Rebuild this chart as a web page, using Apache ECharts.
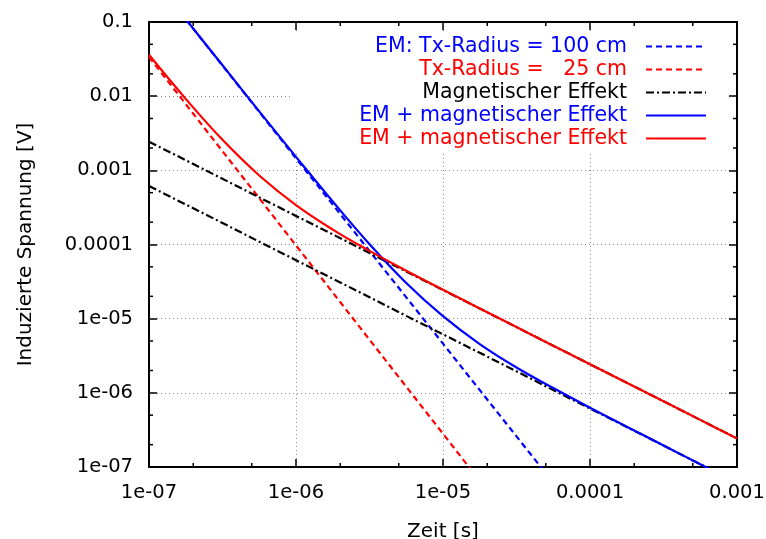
<!DOCTYPE html>
<html>
<head>
<meta charset="utf-8">
<script src="https://cdn.jsdelivr.net/npm/echarts@6/dist/echarts.min.js"></script>
<style>
html,body{margin:0;padding:0;background:#fff;}
#chart{width:766px;height:539px;}
</style>
</head>
<body>
<div id="chart"></div>
<script>
// ---- data ----
const timeTickLabels = ['1e-07', '1e-06', '1e-05', '0.0001', '0.001'];
const voltTickLabels = ['1e-07', '1e-06', '1e-05', '0.0001', '0.001', '0.01', '0.1'];
const times = [1e-7, 1.778e-7, 3.162e-7, 5.623e-7, 1e-6, 1.778e-6, 3.162e-6, 5.623e-6,
  1e-5, 1.778e-5, 3.162e-5, 5.623e-5, 1e-4, 1.778e-4, 3.162e-4, 5.623e-4, 1e-3];
const em100 = [0.46, 0.109, 0.0259, 0.00613, 0.00145, 3.45e-4, 8.18e-5, 1.94e-5, 4.6e-6,
  1.09e-6, 2.59e-7, 6.13e-8, null, null, null, null, null];
const em25 = [0.0337, 0.00782, 0.00181, 4.2e-4, 9.73e-5, 2.25e-5, 5.22e-6, 1.21e-6, 2.81e-7,
  6.5e-8, null, null, null, null, null, null, null];
const magUpper = [0.00243, 0.00137, 7.69e-4, 4.32e-4, 2.43e-4, 1.37e-4, 7.69e-5, 4.32e-5, 2.43e-5,
  1.37e-5, 7.69e-6, 4.32e-6, 2.43e-6, 1.37e-6, 7.69e-7, 4.32e-7, 2.43e-7];
const magLower = [6.15e-4, 3.46e-4, 1.95e-4, 1.09e-4, 6.15e-5, 3.46e-5, 1.95e-5, 1.09e-5, 6.15e-6,
  3.46e-6, 1.95e-6, 1.09e-6, 6.15e-7, 3.46e-7, 1.95e-7, 1.09e-7, 6.15e-8];
const sum100 = [0.461, 0.109, 0.0261, 0.00624, 0.00152, 3.8e-4, 1.01e-4, 3.03e-5, 1.08e-5,
  4.55e-6, 2.2e-6, 1.16e-6, 6.3e-7, 3.5e-7, 1.95e-7, 1.09e-7, 6.15e-8];
const sum25 = [0.0361, 0.00919, 0.00258, 8.52e-4, 3.4e-4, 1.59e-4, 8.21e-5, 4.44e-5, 2.46e-5,
  1.375e-5, 7.7e-6, 4.32e-6, 2.43e-6, 1.37e-6, 7.69e-7, 4.32e-7, 2.43e-7];
const minorTicksX = [2e-7, 5e-7, 2e-6, 5e-6, 2e-5, 5e-5, 2e-4, 5e-4];
const minorTicksY = [2e-7, 5e-7, 2e-6, 5e-6, 2e-5, 5e-5, 2e-4, 5e-4, 2e-3, 5e-3, 2e-2, 5e-2];
const seriesKeys = ['em100', 'em25', 'mag', 'sum100', 'sum25'];
const legendLabels = ['EM: Tx-Radius = 100 cm', 'Tx-Radius =   25 cm', 'Magnetischer Effekt',
  'EM + magnetischer Effekt', 'EM + magnetischer Effekt'];
const xTitle = 'Zeit [s]';
const yTitle = 'Induzierte Spannung [V]';

const X_MIN = 1e-7, X_MAX = 1e-3, Y_MIN = 1e-7, Y_MAX = 0.1;
const FONT = "'DejaVu Sans', sans-serif";
const BLUE = '#0000ff', RED = '#ff0000', BLACK = '#000000';
const LW = 2.2;

function pairs(arr) { return times.map((t, i) => [t, arr[i] == null ? '-' : arr[i]]); }
function xLab(v) { return timeTickLabels[Math.round(Math.log10(v)) + 7] || ''; }
function yLab(v) { return voltTickLabels[Math.round(Math.log10(v)) + 7] || ''; }

const tickData = minorTicksX.map(v => [v, Y_MIN, 0]).concat(minorTicksY.map(v => [X_MIN, v, 1]));

function renderMinor(params, api) {
  const kind = api.value(2);
  const st = { stroke: BLACK, lineWidth: 1.5 };
  const L = 4;
  if (kind === 0) {
    const v = api.value(0);
    const b = api.coord([v, Y_MIN]);
    const t = api.coord([v, Y_MAX]);
    return { type: 'group', children: [
      { type: 'line', shape: { x1: b[0], y1: b[1], x2: b[0], y2: b[1] - L }, style: st },
      { type: 'line', shape: { x1: t[0], y1: t[1], x2: t[0], y2: t[1] + L }, style: st }
    ] };
  }
  const v = api.value(1);
  const l = api.coord([X_MIN, v]);
  const r = api.coord([X_MAX, v]);
  return { type: 'group', children: [
    { type: 'line', shape: { x1: l[0], y1: l[1], x2: l[0] + L, y2: l[1] }, style: st },
    { type: 'line', shape: { x1: r[0], y1: r[1], x2: r[0] - L, y2: r[1] }, style: st }
  ] };
}

const axisCommon = {
  type: 'log', logBase: 10,
  axisLine: { show: true, onZero: false, lineStyle: { color: BLACK, width: 2 } },
  axisTick: { show: true, inside: true, length: 8, lineStyle: { color: BLACK, width: 1.5 } },
  minorTick: { show: false }
};

const chart = echarts.init(document.getElementById('chart'), null, { renderer: 'canvas' });
chart.setOption({
  animation: false,
  backgroundColor: '#ffffff',
  grid: { left: 149, right: 29, top: 22, bottom: 72, containLabel: false, outerBoundsMode: 'none' },
  xAxis: [
    Object.assign({}, axisCommon, {
      min: X_MIN, max: X_MAX, position: 'bottom',
      name: xTitle, nameLocation: 'middle', nameGap: 55,
      nameTextStyle: { fontFamily: FONT, fontSize: 20, color: BLACK },
      axisLabel: { show: true, margin: 16, formatter: xLab, fontFamily: FONT, fontSize: 19.5, color: BLACK,
        showMinLabel: true, showMaxLabel: true },
      splitLine: { show: true, lineStyle: { color: '#8c8c8c', width: 1, type: [1, 3] } }
    }),
    Object.assign({}, axisCommon, {
      min: X_MIN, max: X_MAX, position: 'top',
      axisLabel: { show: false }, splitLine: { show: false }
    })
  ],
  yAxis: [
    Object.assign({}, axisCommon, {
      min: Y_MIN, max: Y_MAX, position: 'left',
      name: yTitle, nameLocation: 'middle', nameGap: 113,
      nameTextStyle: { fontFamily: FONT, fontSize: 20, color: BLACK },
      axisLabel: { show: true, margin: 16, formatter: yLab, fontFamily: FONT, fontSize: 19.5, color: BLACK,
        showMinLabel: true, showMaxLabel: true },
      splitLine: { show: true, lineStyle: { color: '#8c8c8c', width: 1, type: [1, 3] } }
    }),
    Object.assign({}, axisCommon, {
      min: Y_MIN, max: Y_MAX, position: 'right',
      axisLabel: { show: false }, splitLine: { show: false }
    })
  ],
  legend: {
    orient: 'vertical', align: 'right',
    right: 38, top: 31, z: 1,
    padding: [5, 21, 2, 68],
    itemWidth: 60, itemHeight: 14, itemGap: 2,
    backgroundColor: '#ffffff',
    selectedMode: false,
    itemStyle: { opacity: 0 },
    formatter: function (n) { return legendLabels[seriesKeys.indexOf(n)]; },
    textStyle: { fontFamily: FONT, fontSize: 20.5, lineHeight: 20, padding: [0, 14, 0, 0] },
    data: [
      { name: 'em100', textStyle: { color: BLUE } },
      { name: 'em25', textStyle: { color: RED } },
      { name: 'mag', textStyle: { color: BLACK } },
      { name: 'sum100', textStyle: { color: BLUE } },
      { name: 'sum25', textStyle: { color: RED } }
    ]
  },
  series: [
    { name: 'em100', type: 'line', data: pairs(em100), symbol: 'none', clip: true,
      itemStyle: { color: BLUE }, lineStyle: { color: BLUE, width: LW, type: [6, 4] }, z: 2 },
    { name: 'em25', type: 'line', data: pairs(em25), symbol: 'none', clip: true,
      itemStyle: { color: RED }, lineStyle: { color: RED, width: LW, type: [6, 4] }, z: 2 },
    { name: 'mag', type: 'line', data: pairs(magUpper), symbol: 'none', clip: true,
      itemStyle: { color: BLACK }, lineStyle: { color: BLACK, width: LW, type: [8, 3, 2, 3] }, z: 2 },
    { name: 'mag2', type: 'line', data: pairs(magLower), symbol: 'none', clip: true,
      itemStyle: { color: BLACK }, lineStyle: { color: BLACK, width: LW, type: [8, 3, 2, 3] }, z: 2 },
    { name: 'sum100', type: 'line', data: pairs(sum100), symbol: 'none', clip: true, smooth: 0.4,
      itemStyle: { color: BLUE }, lineStyle: { color: BLUE, width: LW }, z: 3 },
    { name: 'sum25', type: 'line', data: pairs(sum25), symbol: 'none', clip: true, smooth: 0.4,
      itemStyle: { color: RED }, lineStyle: { color: RED, width: LW }, z: 3 },
    { name: 'minorTicks', type: 'custom', renderItem: renderMinor, data: tickData,
      encode: { x: 0, y: 1 }, silent: true, z: 5 }
  ]
});
</script>
</body>
</html>
